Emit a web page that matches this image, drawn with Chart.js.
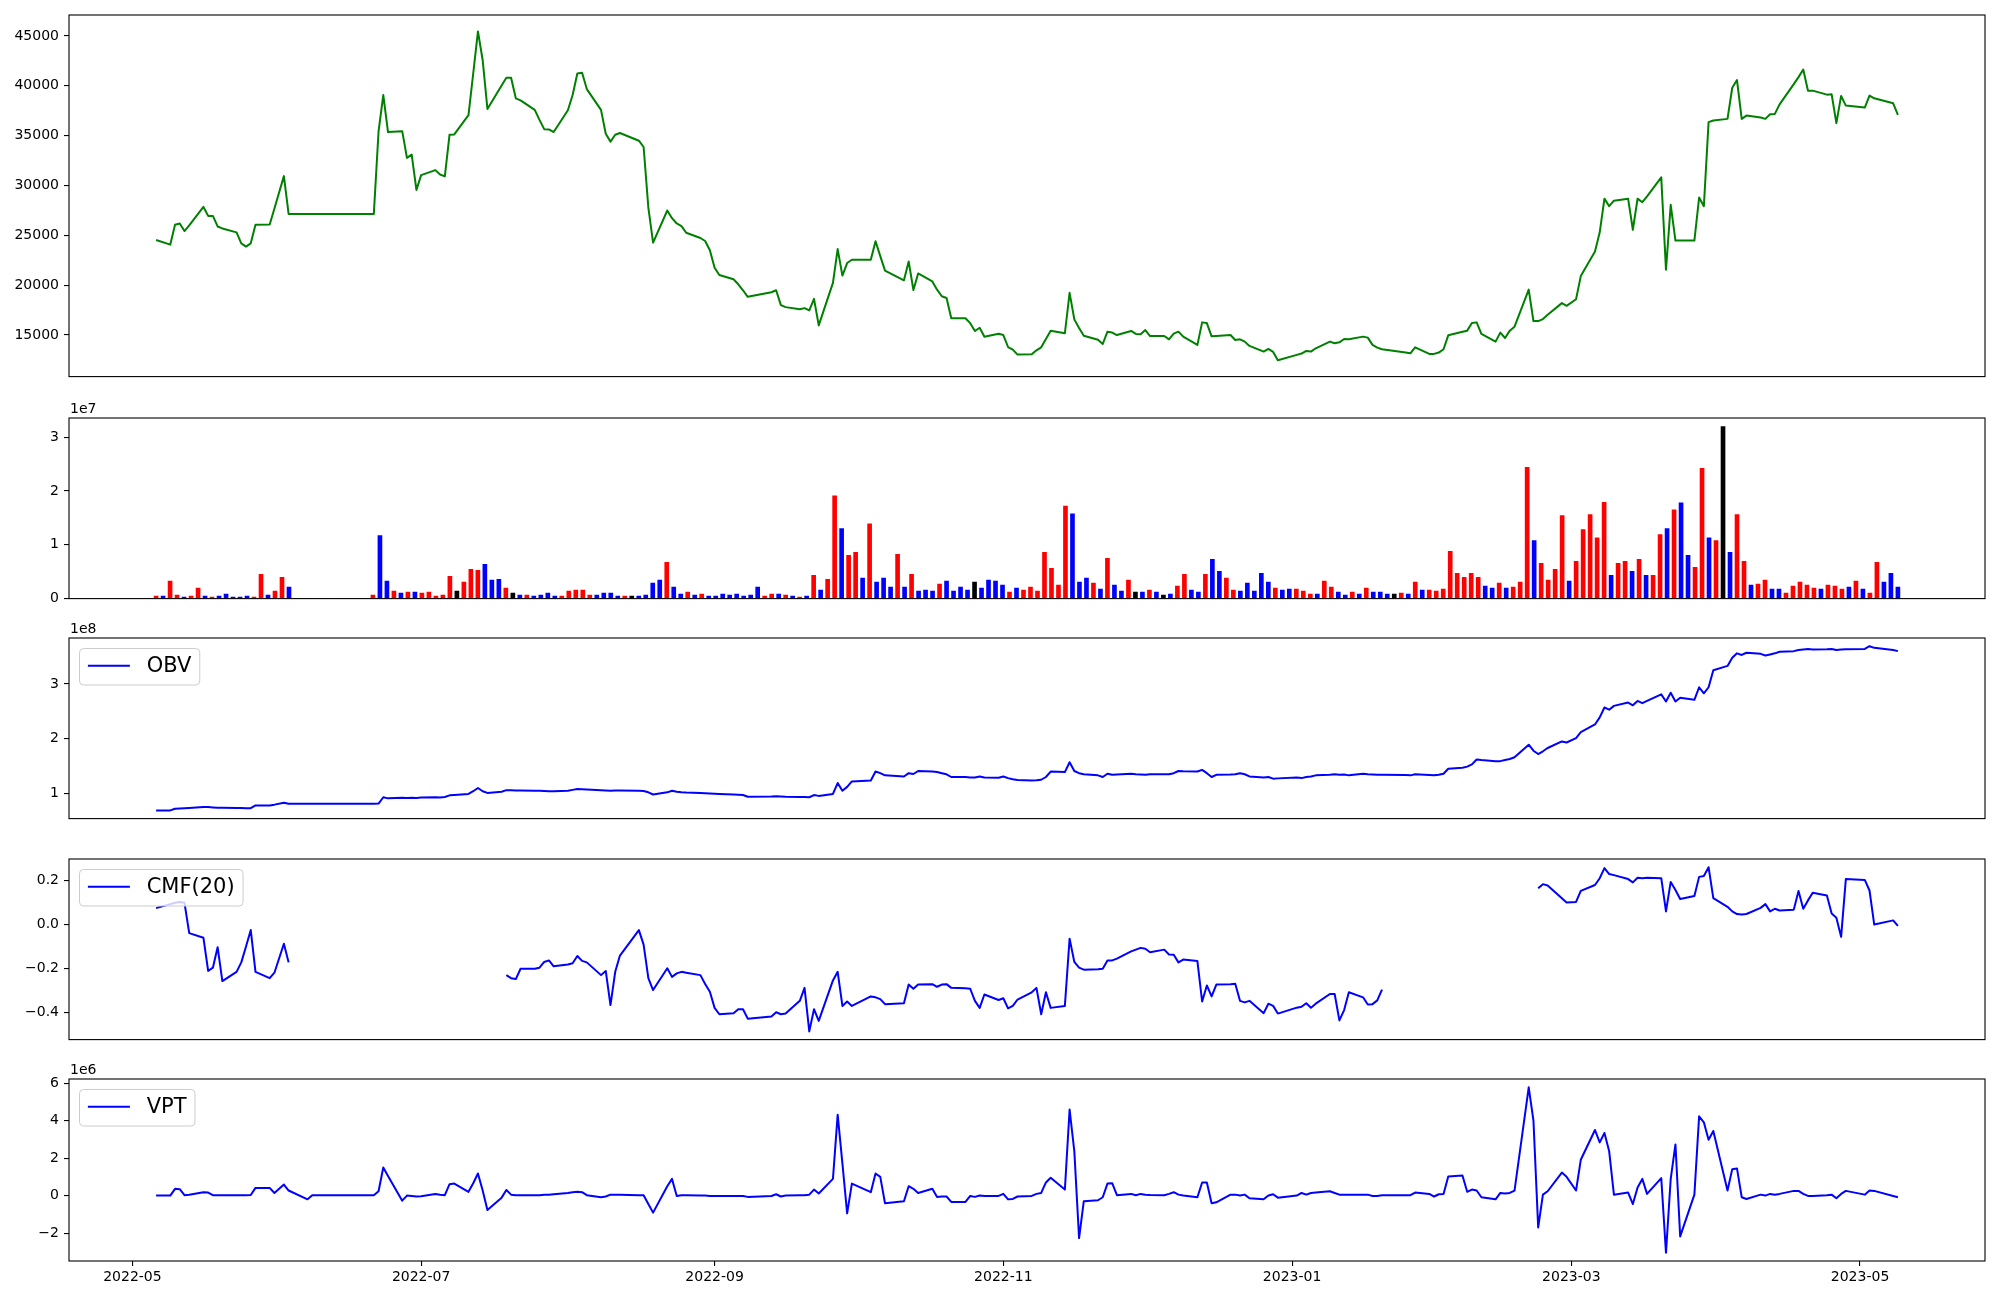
<!DOCTYPE html>
<html>
<head>
<meta charset="utf-8">
<title>Price, volume and volume indicators</title>
<script src="https://cdn.jsdelivr.net/npm/chart.js@4.4.1/dist/chart.umd.min.js"></script>
<style>
    html, body { margin: 0; padding: 0; background: #ffffff; }
    #figure { position: relative; width: 2000px; height: 1300px; overflow: hidden; }
    #figure canvas { position: absolute; left: 0; }
</style>
</head>
<body>
<div id="figure">
    <canvas id="priceChart" width="2000" height="390" style="top:0px;width:2000px;height:390px"></canvas>
    <canvas id="volumeChart" width="2000" height="218" style="top:394px;width:2000px;height:218px"></canvas>
    <canvas id="obvChart" width="2000" height="218" style="top:614px;width:2000px;height:218px"></canvas>
    <canvas id="cmfChart" width="2000" height="218" style="top:835px;width:2000px;height:218px"></canvas>
    <canvas id="vptChart" width="2000" height="246" style="top:1055px;width:2000px;height:246px"></canvas>
</div>
<script>
// Trading days (KRX calendar)
const dates = [
    '2022-05-06','2022-05-09','2022-05-10','2022-05-11','2022-05-12','2022-05-13','2022-05-16','2022-05-17','2022-05-18','2022-05-19','2022-05-20','2022-05-23','2022-05-24','2022-05-25','2022-05-26','2022-05-27','2022-05-30','2022-05-31',
    '2022-06-02','2022-06-03','2022-06-07','2022-06-08','2022-06-09','2022-06-10','2022-06-13','2022-06-14','2022-06-15','2022-06-16','2022-06-17','2022-06-20','2022-06-21','2022-06-22','2022-06-23','2022-06-24','2022-06-27','2022-06-28','2022-06-29','2022-06-30',
    '2022-07-01','2022-07-04','2022-07-05','2022-07-06','2022-07-07','2022-07-08','2022-07-11','2022-07-12','2022-07-13','2022-07-14','2022-07-15','2022-07-18','2022-07-19','2022-07-20','2022-07-21','2022-07-22','2022-07-25','2022-07-26','2022-07-27','2022-07-28','2022-07-29',
    '2022-08-01','2022-08-02','2022-08-03','2022-08-04','2022-08-05','2022-08-08','2022-08-09','2022-08-10','2022-08-11','2022-08-12','2022-08-16','2022-08-17','2022-08-18','2022-08-19','2022-08-22','2022-08-23','2022-08-24','2022-08-25','2022-08-26','2022-08-29','2022-08-30','2022-08-31',
    '2022-09-01','2022-09-02','2022-09-05','2022-09-06','2022-09-07','2022-09-08','2022-09-13','2022-09-14','2022-09-15','2022-09-16','2022-09-19','2022-09-20','2022-09-21','2022-09-22','2022-09-23','2022-09-26','2022-09-27','2022-09-28','2022-09-29','2022-09-30',
    '2022-10-04','2022-10-05','2022-10-06','2022-10-07','2022-10-11','2022-10-12','2022-10-13','2022-10-14','2022-10-17','2022-10-18','2022-10-19','2022-10-20','2022-10-21','2022-10-24','2022-10-25','2022-10-26','2022-10-27','2022-10-28','2022-10-31',
    '2022-11-01','2022-11-02','2022-11-03','2022-11-04','2022-11-07','2022-11-08','2022-11-09','2022-11-10','2022-11-11','2022-11-14','2022-11-15','2022-11-16','2022-11-17','2022-11-18','2022-11-21','2022-11-22','2022-11-23','2022-11-24','2022-11-25','2022-11-28','2022-11-29','2022-11-30',
    '2022-12-01','2022-12-02','2022-12-05','2022-12-06','2022-12-07','2022-12-08','2022-12-09','2022-12-12','2022-12-13','2022-12-14','2022-12-15','2022-12-16','2022-12-19','2022-12-20','2022-12-21','2022-12-22','2022-12-23','2022-12-26','2022-12-27','2022-12-28','2022-12-29',
    '2023-01-02','2023-01-03','2023-01-04','2023-01-05','2023-01-06','2023-01-09','2023-01-10','2023-01-11','2023-01-12','2023-01-13','2023-01-16','2023-01-17','2023-01-18','2023-01-19','2023-01-20','2023-01-25','2023-01-26','2023-01-27','2023-01-30','2023-01-31',
    '2023-02-01','2023-02-02','2023-02-03','2023-02-06','2023-02-07','2023-02-08','2023-02-09','2023-02-10','2023-02-13','2023-02-14','2023-02-15','2023-02-16','2023-02-17','2023-02-20','2023-02-21','2023-02-22','2023-02-23','2023-02-24','2023-02-27','2023-02-28',
    '2023-03-02','2023-03-03','2023-03-06','2023-03-07','2023-03-08','2023-03-09','2023-03-10','2023-03-13','2023-03-14','2023-03-15','2023-03-16','2023-03-17','2023-03-20','2023-03-21','2023-03-22','2023-03-23','2023-03-24','2023-03-27','2023-03-28','2023-03-29','2023-03-30','2023-03-31',
    '2023-04-03','2023-04-04','2023-04-05','2023-04-06','2023-04-07','2023-04-10','2023-04-11','2023-04-12','2023-04-13','2023-04-14','2023-04-17','2023-04-18','2023-04-19','2023-04-20','2023-04-21','2023-04-24','2023-04-25','2023-04-26','2023-04-27','2023-04-28',
    '2023-05-02','2023-05-03','2023-05-04','2023-05-08','2023-05-09'
];

// Close price
const close = [
    24530, 24070, 26060, 26190, 25430, 26000, 27850, 26950, 26950, 25890, 25690, 25300, 24200, 23870, 24200, 26060, 26090, 27700,
    30940, 27150, 27150, 27150, 27150, 27150, 27150, 27150, 27150, 27150, 27150, 27150, 27150, 35420, 39070, 35360, 35450, 32770, 33100, 29550,
    31040, 31540, 31100, 30910, 35090, 35120, 37050, 41230, 45450, 42560, 37680, 40030, 40800, 40800, 38740, 38540, 37580, 36580, 35650, 35620, 35360,
    37550, 39070, 41230, 41300, 39670, 37580, 35190, 34400, 35090, 35260, 34490, 33860, 27790, 24270, 27490, 26720, 26190, 25930, 25260, 24730, 24430, 23500,
    21750, 21020, 20590, 20090, 19490, 18830, 19290, 19490, 18000, 17800, 17580, 17700, 17470, 18630, 15970, 20230, 23620, 20960, 22220, 22550,
    22550, 24400, 22910, 21460, 20490, 22380, 19520, 21180, 20380, 19550, 18890, 18720, 16690, 16690, 16190, 15400, 15730, 14830, 15130,
    15000, 13800, 13540, 13040, 13070, 13470, 13770, 14600, 15440, 15180, 19230, 16570, 15700, 14930, 14520, 14100, 15340, 15250, 15000, 15410, 15110, 15070,
    15500, 14900, 14900, 14570, 15140, 15340, 14840, 14010, 16270, 16200, 14870, 14900, 15000, 14500, 14570, 14340, 13910, 13340, 13610, 13310, 12480,
    13010, 13140, 13410, 13340, 13670, 14340, 14170, 14270, 14600, 14570, 14840, 14740, 14010, 13740, 13570, 13240, 13170, 13770, 13110, 13110,
    13240, 13570, 14970, 15330, 15440, 16200, 16270, 15110, 14340, 15240, 14700, 15440, 15840, 19560, 16400, 16400, 16600, 17030, 18200, 17930,
    18590, 20910, 23370, 25300, 28680, 27920, 28480, 28680, 25560, 28680, 28320, 28910, 30810, 21550, 28060, 24470, 24470, 24470, 28790, 27920, 36350, 36520,
    36680, 39800, 40570, 36680, 37010, 36810, 36680, 37150, 37180, 38140, 40170, 40870, 41630, 39510, 39510, 39110, 39140, 36250, 38980, 38010,
    37810, 39010, 38740, 38240, 37080
];

// Volume, in millions of shares
const volumeM = [
    0.48, 0.48, 3.24, 0.66, 0.30, 0.48, 1.95, 0.48, 0.30, 0.48, 0.85, 0.30, 0.30, 0.48, 0.30, 4.50, 0.66, 1.40,
    3.97, 2.13, 0, 0, 0, 0, 0, 0, 0, 0, 0, 0, 0, 0.66, 11.7, 3.24, 1.40, 1.03, 1.21, 1.21,
    1.03, 1.21, 0.48, 0.66, 4.16, 1.40, 3.05, 5.45, 5.26, 6.37, 3.42, 3.60, 1.95, 1.03, 0.66, 0.66, 0.48, 0.66, 1.03, 0.48, 0.48,
    1.40, 1.58, 1.58, 0.66, 0.66, 1.03, 1.03, 0.48, 0.48, 0.48, 0.48, 0.66, 2.87, 3.42, 6.74, 2.13, 0.85, 1.21, 0.66, 0.85, 0.48, 0.48,
    0.85, 0.66, 0.85, 0.48, 0.66, 2.13, 0.48, 0.85, 0.85, 0.66, 0.48, 0.30, 0.48, 4.34, 1.58, 3.60, 19.07, 13.0, 8.02, 8.58,
    3.79, 13.9, 3.05, 3.79, 2.13, 8.21, 2.13, 4.53, 1.40, 1.58, 1.40, 2.69, 3.24, 1.40, 2.13, 1.58, 3.05, 1.95, 3.42,
    3.24, 2.50, 1.21, 1.95, 1.58, 2.13, 1.40, 8.58, 5.63, 2.50, 17.2, 15.75, 3.05, 3.79, 2.87, 1.77, 7.47, 2.50, 1.40, 3.42, 1.21, 1.21,
    1.58, 1.21, 0.66, 0.85, 2.32, 4.53, 1.58, 1.21, 4.53, 7.28, 5.08, 3.79, 1.58, 1.40, 2.87, 1.40, 4.71, 3.05, 1.95, 1.58, 1.77,
    1.77, 1.40, 0.85, 0.85, 3.24, 2.13, 1.21, 0.66, 1.21, 0.85, 1.95, 1.21, 1.21, 0.85, 0.85, 1.03, 0.85, 3.05, 1.58, 1.58,
    1.40, 1.77, 8.76, 4.71, 3.97, 4.71, 3.97, 2.32, 1.95, 2.87, 1.95, 2.13, 3.05, 24.4, 10.8, 6.55, 3.42, 5.45, 15.4, 3.24,
    6.90, 12.8, 15.6, 11.3, 17.9, 4.34, 6.55, 6.90, 5.08, 7.28, 4.34, 4.34, 11.9, 13.0, 16.5, 17.8, 8.02, 5.82, 24.2, 11.3, 10.8, 31.95,
    8.58, 15.6, 6.90, 2.50, 2.69, 3.42, 1.77, 1.77, 1.03, 2.32, 3.05, 2.50, 1.95, 1.77, 2.50, 2.32, 1.77, 2.13, 3.24, 1.77,
    1.03, 6.74, 3.05, 4.71, 2.13
];

// Bar direction: 1 = up (red), -1 = down (blue), 0 = unchanged (black)
const volumeDir = [
    1, -1, 1, 1, -1, 1, 1, -1, 1, -1, -1, -1, -1, -1, 1, 1, -1, 1,
    1, -1, 0, 0, 0, 0, 0, 0, 0, 0, 0, 0, 0, 1, -1, -1, 1, -1, 1, -1,
    1, 1, 1, 1, 1, 0, 1, 1, 1, -1, -1, -1, 1, 0, -1, 1, -1, -1, -1, -1, 1,
    1, 1, 1, 1, -1, -1, -1, -1, 1, 0, -1, -1, -1, -1, 1, -1, -1, 1, -1, 1, -1, -1,
    -1, -1, -1, -1, -1, -1, 1, 1, -1, 1, -1, 1, -1, 1, -1, 1, 1, -1, 1, 1,
    -1, 1, -1, -1, -1, 1, -1, 1, -1, -1, -1, 1, -1, -1, -1, -1, 0, -1, -1,
    -1, -1, 1, -1, 1, 1, 1, 1, 1, 1, 1, -1, -1, -1, 1, -1, 1, -1, -1, 1, 0, -1,
    1, -1, 0, -1, 1, 1, -1, -1, 1, -1, -1, 1, 1, -1, -1, -1, -1, -1, 1, -1, -1,
    1, 1, 1, -1, 1, 1, -1, -1, 1, -1, 1, -1, -1, -1, 0, 1, -1, 1, -1, 1,
    1, 1, 1, 1, 1, 1, 1, -1, -1, 1, -1, 1, 1, 1, -1, 1, 1, 1, 1, -1,
    1, 1, 1, 1, 1, -1, 1, 1, -1, 1, -1, 1, 1, -1, 1, -1, -1, 1, 1, -1, 1, 0,
    -1, 1, 1, -1, 1, 1, -1, -1, 1, 1, 1, 1, 1, -1, 1, 1, 1, -1, 1, -1,
    1, 1, -1, -1, -1
];

// On-balance volume, in millions
const obvM = [
    69, 69, 72, 72.5, 73, 73.5, 75, 75, 74.5, 74, 74, 73.5, 73.5, 73, 73, 78, 78, 79.5,
    83, 81, 81, 81, 81, 81, 81, 81, 81, 81, 81, 81, 81, 81.5, 93, 91, 92, 91.5, 92, 91.5,
    92.5, 93, 92.5, 93.5, 96.5, 97, 99, 104, 110, 104, 101, 103, 106, 106, 105.5, 105.5, 105, 105, 104.5, 104, 104,
    105, 106.5, 108, 107.5, 107, 106, 105.5, 105, 105.5, 105.5, 105, 104.5, 102, 98, 102, 105, 103, 102, 101.5, 101, 100.5, 100,
    99.5, 99, 98, 97.5, 97, 94, 94.5, 95, 94.5, 94, 93.5, 93.5, 93, 97, 95.5, 99, 119, 105, 112, 122,
    123.5, 140, 137, 133, 131, 137, 135.5, 141, 140, 139, 137, 135, 130, 130, 129, 129, 131, 129, 128.5,
    131, 128, 126, 124.5, 123.5, 124, 125, 130, 140, 139, 157, 141, 137, 135, 133, 130, 136, 134, 134.5, 136, 135, 134.5,
    134, 135, 135, 135, 137, 141, 140.5, 140, 143, 137, 130, 134, 134.5, 135, 137, 135, 131, 129, 130, 127, 127.5,
    129, 128, 130, 131, 133, 134, 135, 134, 134.5, 133, 136, 135, 134.5, 134, 134, 133.5, 133, 135, 133.5, 133,
    134, 136, 145, 147, 149, 153, 162, 161, 159, 159, 161, 163, 166, 189, 178, 172, 177, 183, 195, 193,
    201, 212, 226, 239, 257, 253, 260, 266, 261, 269, 265, 269, 281, 268, 284, 268, 275, 271, 294, 283, 294, 325,
    333, 348, 356, 353, 357, 355, 352, 354, 356, 359, 360, 362, 363, 364, 363, 363.5, 364, 362, 363, 363.5,
    364, 369, 366, 362, 360
];

// Chaikin money flow (20), null where undefined
const cmf20 = [
    0.075, 0.093, 0.099, 0.103, 0.099, -0.039, -0.060, -0.211, -0.196, -0.103, -0.257, -0.215, -0.172, -0.100, -0.025, -0.215, -0.244, -0.219,
    -0.087, -0.172, null, null, null, null, null, null, null, null, null, null, null, null, null, null, null, null, null, null,
    null, null, null, null, null, null, null, null, null, null, null, null, -0.230, -0.244, -0.248, -0.201, -0.201, -0.196, -0.170, -0.163, -0.190,
    -0.182, -0.176, -0.143, -0.165, -0.172, -0.230, -0.211, -0.366, -0.215, -0.141, -0.025, -0.091, -0.244, -0.298, -0.199, -0.238, -0.222, -0.215, -0.219, -0.230, -0.270, -0.306,
    -0.379, -0.408, -0.403, -0.385, -0.385, -0.428, -0.418, -0.399, -0.408, -0.405, -0.347, -0.288, -0.486, -0.385, -0.438, -0.254, -0.215, -0.370, -0.350, -0.370,
    -0.327, -0.331, -0.339, -0.362, -0.358, -0.273, -0.292, -0.273, -0.271, -0.283, -0.273, -0.271, -0.288, -0.290, -0.292, -0.347, -0.379, -0.318, -0.343,
    -0.335, -0.381, -0.370, -0.341, -0.308, -0.288, -0.408, -0.308, -0.379, -0.370, -0.064, -0.170, -0.196, -0.205, -0.203, -0.201, -0.163, -0.163, -0.155, -0.122, -0.114, -0.106,
    -0.110, -0.126, -0.114, -0.136, -0.137, -0.172, -0.159, -0.166, -0.350, -0.277, -0.327, -0.273, -0.271, -0.269, -0.347, -0.354, -0.347, -0.403, -0.360, -0.370, -0.405,
    -0.378, -0.374, -0.358, -0.378, -0.360, -0.316, -0.316, -0.436, -0.389, -0.308, -0.331, -0.364, -0.362, -0.345, -0.296, null, null, null, null, null,
    null, null, null, null, null, null, null, null, null, null, null, null, null, null, null, 0.165, 0.184, 0.178, 0.120, 0.100,
    0.103, 0.153, 0.180, 0.211, 0.257, 0.230, 0.225, 0.207, 0.192, 0.213, 0.211, 0.213, 0.211, 0.060, 0.194, 0.157, 0.116, 0.130, 0.217, 0.221, 0.261, 0.120,
    0.081, 0.060, 0.048, 0.046, 0.048, 0.076, 0.093, 0.060, 0.072, 0.064, 0.068, 0.153, 0.072, 0.110, 0.145, 0.132, 0.050, 0.031, -0.056, 0.207,
    0.203, 0.155, 0.000, 0.019, -0.006
];

// Volume price trend, in millions
const vptM = [
    0, 0, 0.36, 0.34, 0.02, 0.05, 0.18, 0.16, 0.02, 0.02, 0.02, 0.02, 0.02, 0.02, 0.03, 0.41, 0.41, 0.14,
    0.59, 0.27, -0.20, 0.02, 0.02, 0.02, 0.02, 0.02, 0.02, 0.02, 0.02, 0.02, 0.02, 0.23, 1.50, 1.05, -0.27, 0.00, -0.02, -0.05,
    -0.03, 0.09, 0.05, 0.02, 0.61, 0.64, 0.20, 0.66, 1.18, 0.27, -0.77, -0.11, 0.30, 0.05, 0.02, 0.02, 0.02, 0.02, 0.04, 0.05, 0.07,
    0.14, 0.18, 0.20, 0.18, 0.02, -0.09, -0.05, 0.05, 0.05, 0.04, 0.02, 0.02, -0.45, -0.91, 0.50, 0.89, -0.02, 0.02, 0.02, 0.00, 0.00, -0.02,
    -0.02, -0.02, -0.02, -0.02, -0.02, -0.07, -0.02, 0.07, -0.05, 0.00, 0.02, 0.02, 0.05, 0.32, 0.11, 0.89, 4.32, 1.72, -0.95, 0.64,
    0.18, 1.18, 1.00, -0.41, -0.30, 0.50, 0.36, 0.14, 0.36, -0.07, -0.05, -0.05, -0.34, -0.34, -0.02, -0.07, 0.00, -0.02, -0.02,
    0.09, -0.20, -0.18, -0.05, -0.02, 0.09, 0.14, 0.70, 0.95, 0.32, 4.59, 2.36, -2.27, -0.30, -0.25, -0.09, 0.64, 0.66, 0.02, 0.09, 0.02, 0.09,
    0.05, 0.03, 0.02, 0.09, 0.18, 0.05, 0.00, -0.09, 0.70, 0.70, -0.41, -0.36, 0.05, 0.05, 0.00, 0.05, -0.14, -0.20, 0.00, 0.07, -0.11,
    0.00, 0.14, 0.05, 0.14, 0.16, 0.23, 0.14, 0.05, 0.05, 0.05, 0.05, 0.05, -0.02, -0.02, 0.02, 0.02, 0.02, 0.16, 0.09, -0.05,
    0.07, 0.09, 1.02, 1.07, 0.20, 0.32, 0.27, -0.09, -0.20, 0.14, 0.11, 0.14, 0.27, 5.78, 4.00, -1.70, 0.05, 0.23, 1.23, 1.00,
    0.27, 1.91, 3.50, 2.84, 3.34, 2.36, 0.05, 0.16, -0.45, 0.43, 0.89, 0.09, 0.93, -3.05, 0.89, 2.73, -2.18, 0.05, 4.23, 3.91, 2.98, 3.45,
    0.27, 1.41, 1.45, -0.09, -0.18, 0.05, 0.00, 0.09, 0.05, 0.09, 0.25, 0.25, 0.09, -0.02, -0.02, 0.02, 0.05, -0.14, 0.09, 0.25,
    0.05, 0.27, 0.25, -0.02, -0.09
];

// Tick labels
const xTickLabels = ['2022-05', '2022-07', '2022-09', '2022-11', '2023-01', '2023-03', '2023-05'];
const priceTicks = [15000, 20000, 25000, 30000, 35000, 40000, 45000];
const volumeTicks = [0, 1e7, 2e7, 3e7];
const obvTicks = [1e8, 2e8, 3e8];
const cmfTicks = [-0.4, -0.2, 0.0, 0.2];
const vptTicks = [-2e6, 0, 2e6, 4e6, 6e6];

const MILLION = 1e6;
const FONT = 'DejaVu Sans';

Chart.defaults.font.family = FONT;
Chart.defaults.font.size = 14;
Chart.defaults.color = '#000000';
Chart.defaults.animation = false;

function dayNumber(s) {
    const p = s.split('-').map(Number);
    return (Date.UTC(p[0], p[1] - 1, p[2] || 1) - Date.UTC(2022, 4, 1)) / 86400000;
}

const xDays = dates.map(dayNumber);
const xSpan = xDays[xDays.length - 1] - xDays[0];
const xMin = xDays[0] - 0.05 * xSpan;
const xMax = xDays[xDays.length - 1] + 0.05 * xSpan;

// matplotlib-like autoscale with 5% margins
function paddedRange(values) {
    const v = values.filter(x => x !== null);
    const lo = Math.min(...v), hi = Math.max(...v);
    const m = (hi - lo) * 0.05;
    return [lo - m, hi + m];
}

function minusSign(text) {
    return text.replace('-', '\u2212');
}

// Frame, offset text and in-axes legend (drawn over the data like matplotlib)
const framePlugin = {
    id: 'frame',
    afterDatasetsDraw(chart, args, opts) {
        const { ctx, chartArea: a } = chart;
        ctx.save();

        if (opts.legend) {
            const fs = 21;
            ctx.font = fs + 'px "' + FONT + '"';
            const pad = 0.4 * fs, handle = 2 * fs, gap = 0.8 * fs;
            const tw = ctx.measureText(opts.legend).width;
            const w = pad + handle + gap + tw + pad, h = 36.5, r = 4;
            const x = a.left + 0.5 * fs, y = a.top + 0.5 * fs;

            ctx.beginPath();
            ctx.moveTo(x + r, y);
            ctx.lineTo(x + w - r, y);
            ctx.arcTo(x + w, y, x + w, y + r, r);
            ctx.lineTo(x + w, y + h - r);
            ctx.arcTo(x + w, y + h, x + w - r, y + h, r);
            ctx.lineTo(x + r, y + h);
            ctx.arcTo(x, y + h, x, y + h - r, r);
            ctx.lineTo(x, y + r);
            ctx.arcTo(x, y, x + r, y, r);
            ctx.closePath();
            ctx.fillStyle = 'rgba(255, 255, 255, 0.8)';
            ctx.fill();
            ctx.strokeStyle = '#cccccc';
            ctx.lineWidth = 1;
            ctx.stroke();

            const cy = y + h / 2 - 1;
            ctx.beginPath();
            ctx.moveTo(x + pad, cy);
            ctx.lineTo(x + pad + handle, cy);
            ctx.strokeStyle = '#0000ff';
            ctx.lineWidth = 2;
            ctx.stroke();

            ctx.fillStyle = '#000000';
            ctx.textBaseline = 'middle';
            ctx.textAlign = 'left';
            ctx.fillText(opts.legend, x + pad + handle + gap, cy + 1);
        }

        ctx.strokeStyle = '#000000';
        ctx.lineWidth = 1.1;
        ctx.strokeRect(a.left, a.top, a.right - a.left, a.bottom - a.top);

        if (opts.offsetText) {
            ctx.font = '14px "' + FONT + '"';
            ctx.fillStyle = '#000000';
            ctx.textAlign = 'left';
            ctx.textBaseline = 'alphabetic';
            ctx.fillText(opts.offsetText, a.left + 1, a.top - 5);
        }
        ctx.restore();
    }
};

function yAxis(ticks, format, range) {
    return {
        position: 'left',
        min: range[0],
        max: range[1],
        afterFit: s => { s.width = 69; },
        afterBuildTicks: s => { s.ticks = ticks.map(v => ({ value: v })); },
        grid: { drawOnChartArea: false, drawTicks: true, tickLength: 5, color: '#000000', lineWidth: 1.1 },
        border: { display: false },
        ticks: { callback: format, padding: 5, color: '#000000', font: { size: 14 } }
    };
}

function dateAxis(show) {
    const axis = {
        type: 'linear',
        display: show,
        offset: false,
        min: xMin,
        max: xMax,
        afterBuildTicks: s => { s.ticks = xTickLabels.map(l => ({ value: dayNumber(l + '-01') })); },
        grid: { drawOnChartArea: false, drawTicks: true, tickLength: 5, color: '#000000', lineWidth: 1.1 },
        border: { display: false },
        ticks: {
            autoSkip: false,
            maxRotation: 0,
            padding: 3,
            color: '#000000',
            font: { size: 14 },
            callback: v => {
                const hit = xTickLabels.find(l => dayNumber(l + '-01') === v);
                return hit || '';
            }
        }
    };
    if (show) {
        axis.afterFit = s => { s.height = 40; };
    }
    return axis;
}

function baseOptions(padTop, padBottom, frame, xScale, yScale) {
    return {
        responsive: false,
        animation: false,
        layout: { padding: { top: padTop, right: 15, bottom: padBottom, left: 0 } },
        plugins: { legend: { display: false }, tooltip: { enabled: false }, frame: frame },
        scales: { x: xScale, y: yScale }
    };
}

function lineSeries(values, scale, color) {
    return {
        data: values.map((v, i) => ({ x: xDays[i], y: v === null ? null : v * scale })),
        borderColor: color,
        borderWidth: 2,
        pointRadius: 0,
        tension: 0,
        spanGaps: false,
        borderJoinStyle: 'round'
    };
}

// Price
new Chart(document.getElementById('priceChart'), {
    type: 'line',
    data: { datasets: [lineSeries(close, 1, '#008000')] },
    options: baseOptions(15, 12, {}, dateAxis(false),
        yAxis(priceTicks, v => String(v), paddedRange(close))),
    plugins: [framePlugin]
});

// Volume (bars on trading-day index)
const nBars = volumeM.length;
const volumeMax = Math.max(...volumeM) * MILLION;
new Chart(document.getElementById('volumeChart'), {
    type: 'bar',
    data: {
        datasets: [{
            data: volumeM.map((v, i) => ({ x: i, y: v * MILLION })),
            backgroundColor: volumeDir.map(d => d > 0 ? '#ff0000' : (d < 0 ? '#0000ff' : '#000000')),
            barThickness: 4,
            borderWidth: 0
        }]
    },
    options: baseOptions(24, 12, { offsetText: '1e7' },
        { type: 'linear', display: false, offset: false, min: -0.05 * (nBars - 1), max: 1.05 * (nBars - 1) },
        yAxis(volumeTicks, v => String(v / 1e7), [0, volumeMax * 1.05])),
    plugins: [framePlugin]
});

// OBV
new Chart(document.getElementById('obvChart'), {
    type: 'line',
    data: { datasets: [lineSeries(obvM, MILLION, '#0000ff')] },
    options: baseOptions(24, 12, { offsetText: '1e8', legend: 'OBV' }, dateAxis(false),
        yAxis(obvTicks, v => String(Math.round(v / 1e8)), paddedRange(obvM.map(v => v * MILLION)))),
    plugins: [framePlugin]
});

// CMF(20)
new Chart(document.getElementById('cmfChart'), {
    type: 'line',
    data: { datasets: [lineSeries(cmf20, 1, '#0000ff')] },
    options: baseOptions(24, 12, { legend: 'CMF(20)' }, dateAxis(false),
        yAxis(cmfTicks, v => minusSign(v.toFixed(1)), paddedRange(cmf20))),
    plugins: [framePlugin]
});

// VPT
new Chart(document.getElementById('vptChart'), {
    type: 'line',
    data: { datasets: [lineSeries(vptM, MILLION, '#0000ff')] },
    options: baseOptions(24, 0, { offsetText: '1e6', legend: 'VPT' }, dateAxis(true),
        yAxis(vptTicks, v => minusSign(String(Math.round(v / 1e6))), paddedRange(vptM.map(v => v * MILLION)))),
    plugins: [framePlugin]
});
</script>
</body>
</html>
